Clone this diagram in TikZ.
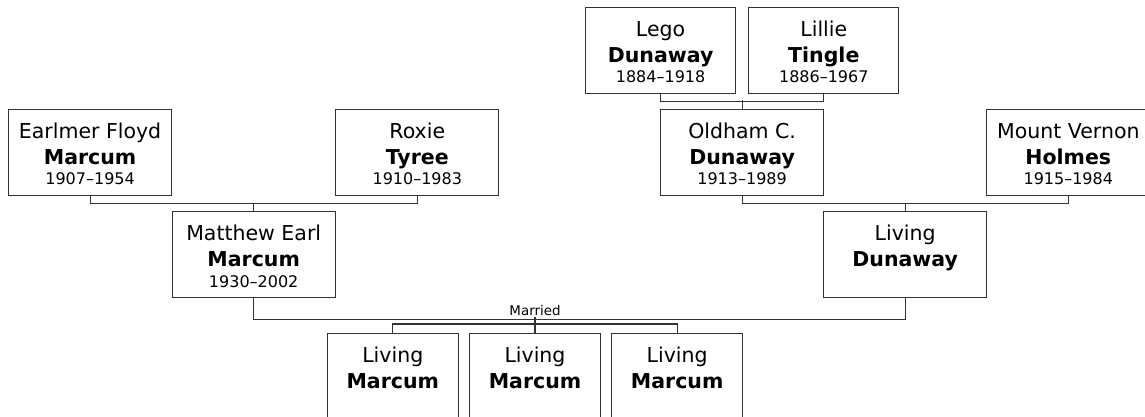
\documentclass[tikz,border=0pt]{standalone}
\usepackage{fontspec}
\setmainfont{DejaVu Sans}
\usepackage{tikz}
\usetikzlibrary{positioning,calc}

\definecolor{edge}{HTML}{333333}

% one person card: [width] first name, surname, years
\newcommand{\who}[4][163pt]{\parbox[t][86pt][t]{#1}{\centering
  \fontsize{20.5}{26.3}\selectfont\rule{0pt}{28.7pt}#2\par\textbf{#3}\par
  \fontsize{16}{20.3}\selectfont #4\par}}

\begin{document}
\begin{tikzpicture}[
  x=1pt, y=1pt,
  node distance=15pt and 163pt,
  person/.style={draw=edge, line width=1.2pt, inner sep=0pt, fill=white},
  link/.style={draw=edge, line width=1.2pt},
  married/.style={font=\fontsize{13.4}{15}\selectfont, inner sep=1.5pt}
]
\useasboundingbox (0,0) rectangle (1145,-416);

% father's side
\node[person, anchor=north west] (earlmer) at (8,-109) {\who{Earlmer Floyd}{Marcum}{1907--1954}};
\node[person, right=163pt of earlmer] (roxie) {\who{Roxie}{Tyree}{1910--1983}};
\coordinate (fpar) at ($(earlmer.south)!.5!(roxie.south)$);
\node[person, below=15pt of fpar] (matthew) {\who{Matthew Earl}{Marcum}{1930--2002}};

% mother's side
\node[person, anchor=north west] (lego) at (585,-7) {\who[150pt]{Lego}{Dunaway}{1884--1918}};
\node[person, right=12pt of lego] (lillie) {\who[150pt]{Lillie}{Tingle}{1886--1967}};
\node[person, anchor=north west] (oldham) at (660,-109) {\who{Oldham C.}{Dunaway}{1913--1989}};
\node[person, right=162pt of oldham] (mount) {\who{Mount Vernon}{Holmes}{1915--1984}};
\coordinate (mpar) at ($(oldham.south)!.5!(mount.south)$);
\node[person, below=15pt of mpar] (livingd) {\who{Living}{Dunaway}{}};

% children
\node[person, anchor=north] (kidb) at (535,-333) {\who[131pt]{Living}{Marcum}{}};
\node[person, left=10pt of kidb] (kida) {\who[131pt]{Living}{Marcum}{}};
\node[person, right=10pt of kidb] (kidc) {\who[131pt]{Living}{Marcum}{}};

% parent bars
\draw[link] (earlmer.south) -- ++(0,-7) -| (roxie.south);
\draw[link] (matthew.north) -- ++(0,8);
\draw[link] (lego.south) -- ++(0,-7) -| (lillie.south);
\draw[link] (oldham.north) -- ++(0,9);
\draw[link] (oldham.south) -- ++(0,-7) -| (mount.south);
\draw[link] (livingd.north) -- ++(0,8);

% marriage and children bar
\draw[link] (matthew.south) -- ++(0,-21) -| (livingd.south);
\coordinate (wed) at ([yshift=16pt]kidb.north);
\node[married, above] (wedlabel) at (wed) {Married};
\draw[link] (wed) -- (kidb.north);
\draw[link] (kida.north) -- ++(0,9) -| (kidc.north);
\end{tikzpicture}
\end{document}
